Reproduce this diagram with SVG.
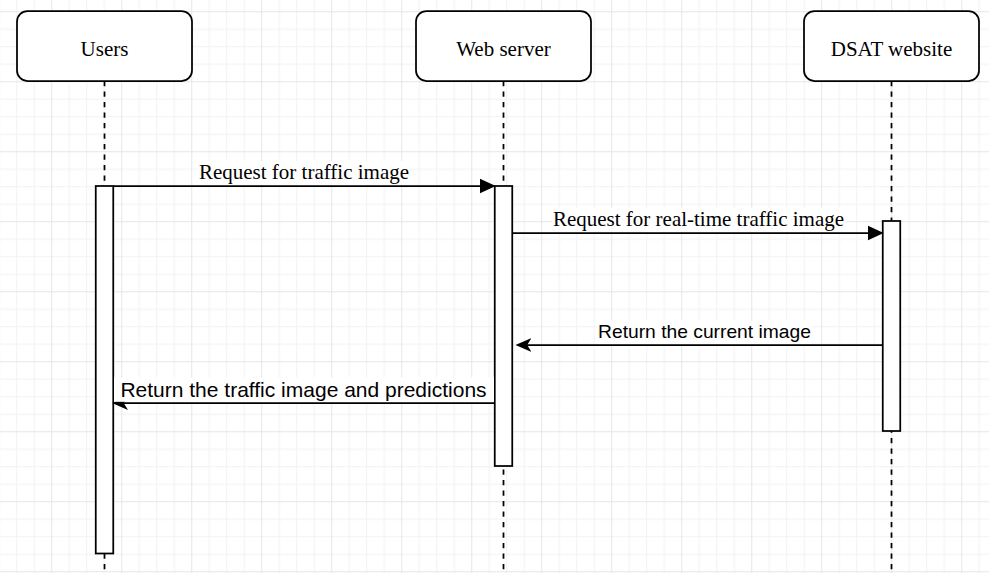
<svg xmlns="http://www.w3.org/2000/svg" width="989" height="573" viewBox="0 0 989 573">
  <style>
    .box { fill: #ffffff; stroke: #000000; stroke-width: 1.75; }
    .bar { fill: #ffffff; stroke: #000000; stroke-width: 1.75; }
    .life { fill: none; stroke: #000000; stroke-width: 1.75; stroke-dasharray: 5.25 5.25; }
    .msg { fill: none; stroke: #000000; stroke-width: 1.75; }
    .title { font-family: "Liberation Serif", "Times New Roman", serif; font-size: 21px; fill: #000000; text-anchor: middle; }
    .lbl-serif { font-family: "Liberation Serif", "Times New Roman", serif; font-size: 21px; fill: #000000; text-anchor: middle; }
    .lbl-sans { font-family: "Liberation Sans", Arial, sans-serif; font-size: 19.25px; fill: #000000; text-anchor: middle; }
    .lbl-sans-lg { font-family: "Liberation Sans", Arial, sans-serif; font-size: 21px; fill: #000000; text-anchor: middle; }
    .lblbg { fill: #ffffff; }
  </style>
  <defs>
    <pattern id="grid" patternUnits="userSpaceOnUse" x="51.25" y="11.25" width="70" height="70">
      <rect x="0" y="0" width="70" height="70" fill="#ffffff"/>
      <path d="M18 0V70M35.5 0V70M53 0V70M0 18H70M0 35.5H70M0 53H70" stroke="#f2f2f2" stroke-width="1" fill="none"/>
      <path d="M0.5 0V70M0 0.5H70" stroke="#e5e5e5" stroke-width="1" fill="none"/>
    </pattern>
    <marker id="block" markerUnits="userSpaceOnUse" markerWidth="16" markerHeight="16" viewBox="0 0 14 13" refX="7" refY="6.5" orient="auto">
      <path d="M0,0 L14,6.5 L0,13 Z" fill="#000000"/>
    </marker>
    <marker id="open" markerUnits="userSpaceOnUse" markerWidth="16" markerHeight="16" viewBox="0 0 15 13" refX="7" refY="6.5" orient="auto">
      <path d="M0,0 L15,6.5 L0,13 L4,6.5 Z" fill="#000000"/>
    </marker>
  </defs>

  <rect id="background" x="0" y="0" width="989" height="573" fill="url(#grid)"/>

  <g id="lifelines">
    <path class="life" d="M104.5 81V573"/>
    <path class="life" d="M503.5 81V573"/>
    <path class="life" d="M891.5 81V573"/>
  </g>

  <g id="node-users">
    <rect class="box" x="17" y="11" width="175" height="70" rx="10.5" ry="10.5"/>
    <text class="title" x="104.5" y="55.5">Users</text>
  </g>
  <g id="node-webserver">
    <rect class="box" x="416" y="11" width="175" height="70" rx="10.5" ry="10.5"/>
    <text class="title" x="503.5" y="55.5">Web server</text>
  </g>
  <g id="node-dsat">
    <rect class="box" x="804" y="11" width="175" height="70" rx="10.5" ry="10.5"/>
    <text class="title" x="891.5" y="55.5">DSAT website</text>
  </g>

  <g id="activation-users">
    <rect class="bar" x="95.75" y="186" width="17.5" height="367.5"/>
  </g>
  <g id="activation-webserver">
    <rect class="bar" x="494.75" y="186" width="17.5" height="280"/>
  </g>
  <g id="activation-dsat">
    <rect class="bar" x="882.75" y="221" width="17.5" height="210"/>
  </g>

  <g id="connectors">
    <path class="msg" d="M113.25 186H487.75" marker-end="url(#block)"/>
    <path class="msg" d="M512.25 233H875.75" marker-end="url(#block)"/>
    <path class="msg" d="M882.75 345H524" marker-end="url(#open)"/>
    <path class="msg" d="M494.75 403H120.5" marker-end="url(#open)"/>
  </g>

  <g id="connector-labels">
    <rect class="lblbg" x="199" y="161" width="210" height="23.5"/>
    <text class="lbl-serif" x="304" y="179">Request for traffic image</text>
    <rect class="lblbg" x="552" y="208" width="293" height="23.5"/>
    <text class="lbl-serif" x="698.5" y="226">Request for real-time traffic image</text>
    <rect class="lblbg" x="597" y="320.5" width="215" height="23.5"/>
    <text class="lbl-sans" x="704.5" y="338">Return the current image</text>
    <rect class="lblbg" x="114" y="377.5" width="380" height="24.3"/>
    <text class="lbl-sans-lg" x="303.5" y="396.5">Return the traffic image and predictions</text>
  </g>
</svg>
